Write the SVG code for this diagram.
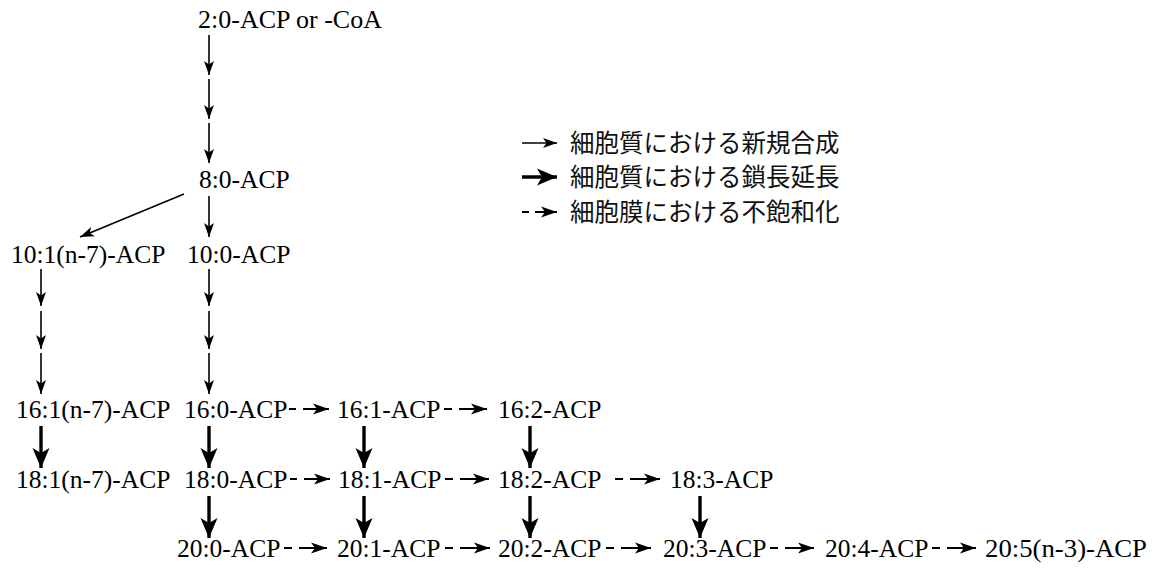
<svg xmlns="http://www.w3.org/2000/svg" width="1159" height="573" viewBox="0 0 1159 573">
<style>
.t{font-family:"Liberation Serif","Times New Roman",serif;font-size:25.5px;fill:#000}
.j{font-family:"Noto Sans CJK JP","Noto Sans",sans-serif;font-size:24.5px;fill:#111}
.thin{stroke:#000;stroke-width:1.6;fill:none;marker-end:url(#hThin)}
.bold{stroke:#000;stroke-width:3.4;fill:none;marker-end:url(#hBold)}
.dash{stroke:#000;stroke-width:2.2;fill:none;marker-end:url(#hDash)}
</style>
<defs>
<marker id="hThin" viewBox="0 -6 14 12" refX="14" refY="0" markerWidth="14" markerHeight="12" markerUnits="userSpaceOnUse" orient="auto">
<path d="M0,-5 L14,0 L0,5 L3.5,0 z" fill="#000"/>
</marker>
<marker id="hBold" viewBox="0 -9 20 18" refX="20" refY="0" markerWidth="20" markerHeight="18" markerUnits="userSpaceOnUse" orient="auto">
<path d="M0,-8.5 L20,0 L0,8.5 L5,0 z" fill="#000"/>
</marker>
<marker id="hDash" viewBox="0 -6 16 12" refX="16" refY="0" markerWidth="16" markerHeight="12" markerUnits="userSpaceOnUse" orient="auto">
<path d="M0,-5.5 L16,0 L0,5.5 L4,0 z" fill="#000"/>
</marker>
</defs>
<rect width="1159" height="573" fill="#fff"/>

<g id="connectors">
<line class="thin" x1="209" y1="35" x2="209" y2="75"/>
<line class="thin" x1="209" y1="79" x2="209" y2="119"/>
<line class="thin" x1="209" y1="123" x2="209" y2="163"/>
<line class="thin" x1="209" y1="196" x2="209" y2="237"/>
<line class="thin" x1="184" y1="194" x2="80" y2="237"/>
<line class="thin" x1="41" y1="269" x2="41" y2="306"/>
<line class="thin" x1="41" y1="311" x2="41" y2="349"/>
<line class="thin" x1="41" y1="353" x2="41" y2="394"/>
<line class="thin" x1="209" y1="269" x2="209" y2="306"/>
<line class="thin" x1="209" y1="311" x2="209" y2="349"/>
<line class="thin" x1="209" y1="353" x2="209" y2="394"/>
<line class="bold" x1="41" y1="426" x2="41" y2="468"/>
<line class="bold" x1="209" y1="426" x2="209" y2="468"/>
<line class="bold" x1="364" y1="426" x2="364" y2="468"/>
<line class="bold" x1="530" y1="426" x2="530" y2="468"/>
<line class="bold" x1="209" y1="496" x2="209" y2="538"/>
<line class="bold" x1="364" y1="496" x2="364" y2="538"/>
<line class="bold" x1="530" y1="496" x2="530" y2="538"/>
<line class="bold" x1="700" y1="496" x2="700" y2="538"/>
<path class="dash" d="M289,409 h7 M303,409 H329"/>
<path class="dash" d="M444,409 h8 M459,409 H487"/>
<path class="dash" d="M290,479 h7 M304,479 H330"/>
<path class="dash" d="M445,479 h8 M460,479 H489"/>
<path class="dash" d="M615,479 h8 M630,479 H660"/>
<path class="dash" d="M284,548 h8 M299,548 H327"/>
<path class="dash" d="M445,548 h8 M460,548 H490"/>
<path class="dash" d="M606,548 h8 M621,548 H651"/>
<path class="dash" d="M770,548 h8 M785,548 H814"/>
<path class="dash" d="M932,548 h8 M947,548 H976"/>
</g>

<g id="legend">
<line class="thin" x1="522" y1="143" x2="557" y2="143"/>
<line class="bold" x1="522" y1="177" x2="557" y2="177"/>
<path class="dash" d="M522,212 h7 M535,212 H557"/>
<text class="j" x="570" y="152">細胞質における新規合成</text>
<text class="j" x="570" y="186">細胞質における鎖長延長</text>
<text class="j" x="570" y="221">細胞膜における不飽和化</text>
</g>

<g id="n-2-0"><text class="t" x="198" y="28" textLength="184" lengthAdjust="spacingAndGlyphs">2:0-ACP or -CoA</text></g>
<g id="n-8-0"><text class="t" x="199" y="188">8:0-ACP</text></g>
<g id="n-10-1"><text class="t" x="11" y="263">10:1(n-7)-ACP</text></g>
<g id="n-10-0"><text class="t" x="187" y="263">10:0-ACP</text></g>
<g id="n-16-1n7"><text class="t" x="16" y="418">16:1(n-7)-ACP</text></g>
<g id="n-16-0"><text class="t" x="184" y="418">16:0-ACP</text></g>
<g id="n-16-1"><text class="t" x="337" y="418">16:1-ACP</text></g>
<g id="n-16-2"><text class="t" x="498" y="418">16:2-ACP</text></g>
<g id="n-18-1n7"><text class="t" x="16" y="488">18:1(n-7)-ACP</text></g>
<g id="n-18-0"><text class="t" x="184" y="488">18:0-ACP</text></g>
<g id="n-18-1"><text class="t" x="338" y="488">18:1-ACP</text></g>
<g id="n-18-2"><text class="t" x="498" y="488">18:2-ACP</text></g>
<g id="n-18-3"><text class="t" x="670" y="488">18:3-ACP</text></g>
<g id="n-20-0"><text class="t" x="177" y="557">20:0-ACP</text></g>
<g id="n-20-1"><text class="t" x="337" y="557">20:1-ACP</text></g>
<g id="n-20-2"><text class="t" x="498" y="557">20:2-ACP</text></g>
<g id="n-20-3"><text class="t" x="663" y="557">20:3-ACP</text></g>
<g id="n-20-4"><text class="t" x="825" y="557">20:4-ACP</text></g>
<g id="n-20-5"><text class="t" x="985" y="557" textLength="162" lengthAdjust="spacingAndGlyphs">20:5(n-3)-ACP</text></g>
</svg>
